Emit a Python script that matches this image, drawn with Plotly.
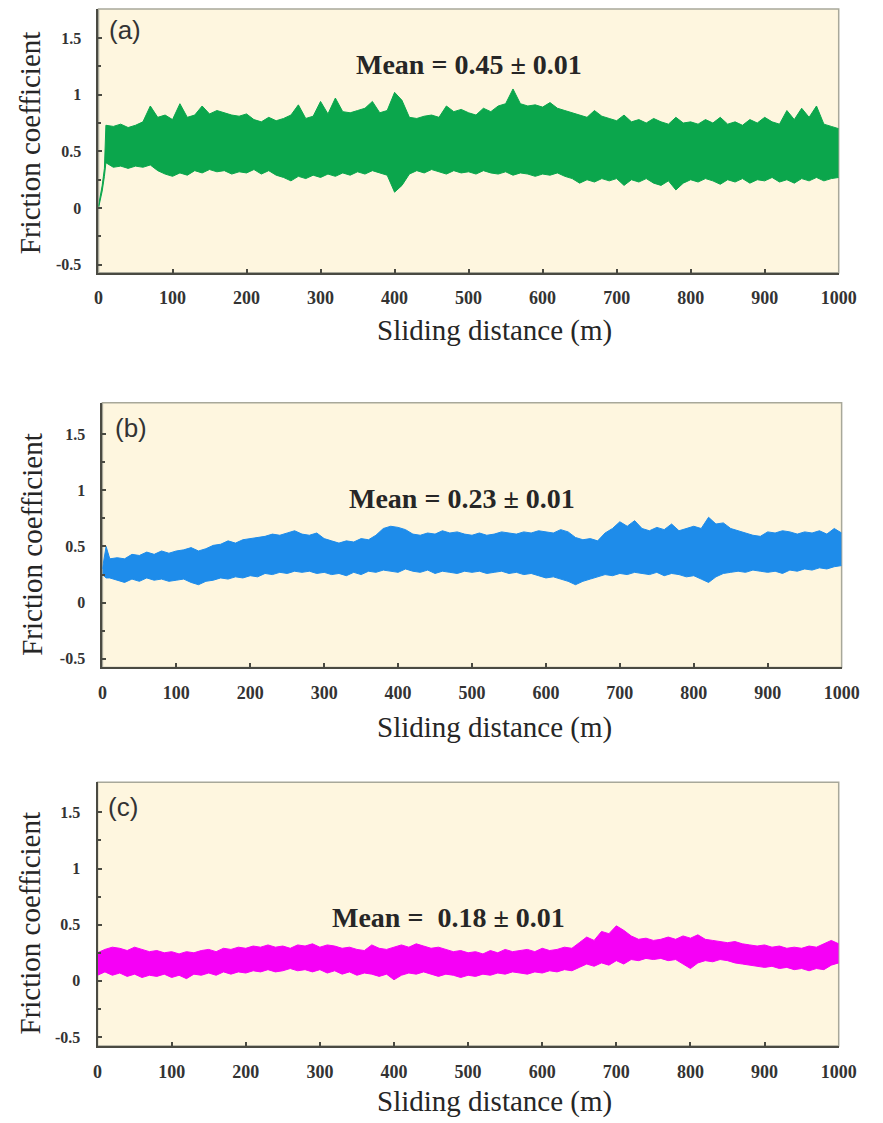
import plotly.graph_objects as go

# ---------------------------------------------------------------
# Friction coefficient vs sliding distance, three test conditions.
# Each trace is drawn as the envelope (upper / lower extent) of the
# recorded friction signal, sampled every 10 m.
# ---------------------------------------------------------------

grid = list(range(10, 1010, 10))

# (a) run-in start, then the steady band
dist_a = [0, 5, 8] + grid
upper_a = [0.02, 0.20, 0.35,
           0.73, 0.72, 0.74, 0.71, 0.73, 0.76, 0.90, 0.80, 0.82, 0.78,
           0.92, 0.80, 0.82, 0.90, 0.83, 0.86, 0.84, 0.82, 0.81, 0.83,
           0.78, 0.76, 0.80, 0.77, 0.79, 0.82, 0.91, 0.79, 0.81, 0.94,
           0.83, 0.97, 0.85, 0.84, 0.86, 0.88, 0.94, 0.84, 0.86, 1.02,
           0.95, 0.80, 0.79, 0.81, 0.82, 0.80, 0.90, 0.85, 0.87, 0.84,
           0.82, 0.88, 0.85, 0.90, 0.92, 1.05, 0.92, 0.90, 0.91, 0.89,
           0.93, 0.88, 0.86, 0.84, 0.82, 0.80, 0.86, 0.81, 0.79, 0.77,
           0.82, 0.76, 0.78, 0.75, 0.79, 0.76, 0.74, 0.80, 0.75, 0.76,
           0.74, 0.78, 0.75, 0.80, 0.74, 0.76, 0.73, 0.78, 0.75, 0.80,
           0.76, 0.74, 0.86, 0.78, 0.88, 0.80, 0.90, 0.74, 0.72, 0.70]
lower_a = [0.00, 0.15, 0.28,
           0.40, 0.36, 0.37, 0.35, 0.37, 0.36, 0.38, 0.33, 0.30, 0.28,
           0.31, 0.29, 0.33, 0.31, 0.34, 0.32, 0.33, 0.30, 0.32, 0.31,
           0.34, 0.30, 0.33, 0.29, 0.27, 0.24, 0.28, 0.26, 0.29, 0.27,
           0.30, 0.28, 0.31, 0.29, 0.32, 0.30, 0.33, 0.31, 0.29, 0.14,
           0.20, 0.30, 0.33, 0.31, 0.34, 0.32, 0.30, 0.33, 0.31, 0.32,
           0.30, 0.33, 0.31, 0.30, 0.32, 0.29, 0.31, 0.30, 0.28, 0.30,
           0.29, 0.31, 0.28, 0.26, 0.22, 0.25, 0.23, 0.26, 0.24, 0.26,
           0.20, 0.25, 0.23, 0.26, 0.22, 0.20, 0.24, 0.16, 0.22, 0.25,
           0.23, 0.26, 0.24, 0.21, 0.25, 0.23, 0.26, 0.22, 0.25, 0.24,
           0.27, 0.23, 0.25, 0.22, 0.26, 0.24, 0.27, 0.24, 0.26, 0.27]

# (b)
dist_b = [0, 5] + grid
upper_b = [0.30, 0.50,
           0.39, 0.40, 0.39, 0.43, 0.42, 0.45, 0.43, 0.46, 0.44, 0.46,
           0.47, 0.49, 0.46, 0.48, 0.51, 0.52, 0.55, 0.53, 0.56, 0.57,
           0.58, 0.59, 0.61, 0.60, 0.62, 0.64, 0.61, 0.60, 0.62, 0.57,
           0.55, 0.53, 0.55, 0.54, 0.57, 0.56, 0.60, 0.66, 0.68, 0.67,
           0.65, 0.61, 0.60, 0.62, 0.61, 0.64, 0.62, 0.63, 0.61, 0.60,
           0.62, 0.60, 0.61, 0.63, 0.62, 0.61, 0.63, 0.62, 0.64, 0.63,
           0.62, 0.65, 0.63, 0.58, 0.56, 0.57, 0.55, 0.62, 0.66, 0.72,
           0.68, 0.73, 0.66, 0.64, 0.67, 0.65, 0.70, 0.64, 0.66, 0.68,
           0.66, 0.76, 0.70, 0.71, 0.66, 0.64, 0.62, 0.60, 0.59, 0.63,
           0.62, 0.64, 0.63, 0.61, 0.63, 0.62, 0.64, 0.61, 0.66, 0.62]
lower_b = [0.25, 0.22,
           0.22, 0.20, 0.18, 0.21, 0.19, 0.22, 0.20, 0.21, 0.19, 0.20,
           0.21, 0.18, 0.16, 0.19, 0.20, 0.22, 0.21, 0.23, 0.22, 0.24,
           0.23, 0.26, 0.25, 0.27, 0.26, 0.28, 0.27, 0.28, 0.26, 0.27,
           0.25, 0.26, 0.24, 0.27, 0.25, 0.28, 0.27, 0.29, 0.28, 0.27,
           0.30, 0.28, 0.27, 0.29, 0.26, 0.28, 0.27, 0.26, 0.28, 0.27,
           0.28, 0.26, 0.27, 0.28, 0.26, 0.27, 0.25, 0.26, 0.24, 0.22,
           0.23, 0.21, 0.19, 0.16, 0.19, 0.21, 0.23, 0.25, 0.24, 0.26,
           0.25, 0.27, 0.26, 0.25, 0.27, 0.24, 0.26, 0.25, 0.23, 0.24,
           0.21, 0.18, 0.23, 0.26, 0.27, 0.28, 0.27, 0.29, 0.28, 0.27,
           0.28, 0.26, 0.29, 0.28, 0.30, 0.29, 0.31, 0.30, 0.32, 0.33]

# (c)
dist_c = [0] + grid
upper_c = [0.25,
           0.28, 0.30, 0.29, 0.27, 0.30, 0.28, 0.26, 0.27, 0.25, 0.26,
           0.24, 0.26, 0.25, 0.27, 0.28, 0.26, 0.29, 0.28, 0.30, 0.29,
           0.31, 0.30, 0.32, 0.30, 0.31, 0.29, 0.32, 0.31, 0.33, 0.30,
           0.32, 0.31, 0.29, 0.30, 0.28, 0.27, 0.32, 0.29, 0.28, 0.30,
           0.32, 0.30, 0.33, 0.31, 0.29, 0.30, 0.28, 0.26, 0.27, 0.25,
           0.26, 0.24, 0.27, 0.25, 0.28, 0.26, 0.27, 0.28, 0.26, 0.29,
           0.27, 0.28, 0.30, 0.29, 0.34, 0.39, 0.36, 0.44, 0.42, 0.49,
           0.45, 0.40, 0.37, 0.38, 0.36, 0.37, 0.39, 0.37, 0.40, 0.38,
           0.41, 0.37, 0.36, 0.35, 0.34, 0.35, 0.33, 0.32, 0.31, 0.32,
           0.30, 0.31, 0.29, 0.30, 0.29, 0.31, 0.30, 0.33, 0.36, 0.33]
lower_c = [0.05,
           0.08, 0.05, 0.07, 0.04, 0.06, 0.03, 0.05, 0.04, 0.06, 0.03,
           0.05, 0.02, 0.06, 0.05, 0.07, 0.05, 0.08, 0.06, 0.08, 0.07,
           0.09, 0.08, 0.10, 0.08, 0.09, 0.11, 0.09, 0.10, 0.08, 0.10,
           0.07, 0.09, 0.06, 0.08, 0.05, 0.07, 0.06, 0.04, 0.06, 0.01,
           0.05, 0.07, 0.06, 0.08, 0.06, 0.04, 0.06, 0.05, 0.03, 0.05,
           0.04, 0.06, 0.05, 0.07, 0.06, 0.08, 0.07, 0.06, 0.08, 0.07,
           0.09, 0.08, 0.10, 0.09, 0.12, 0.15, 0.13, 0.16, 0.14, 0.18,
           0.15, 0.19, 0.18, 0.20, 0.19, 0.20, 0.18, 0.19, 0.15, 0.11,
           0.16, 0.18, 0.17, 0.19, 0.18, 0.16, 0.15, 0.14, 0.13, 0.12,
           0.13, 0.11, 0.12, 0.10, 0.11, 0.09, 0.11, 0.10, 0.14, 0.16]

panel_labels = ["(a)", "(b)", "(c)"]
mean_values = [0.45, 0.23, 0.18]
mean_errors = [0.01, 0.01, 0.01]

x_tick_values = list(range(0, 1001, 100))
y_tick_values = [-0.5, 0, 0.5, 1, 1.5]
y_tick_text = ["-0.5", "0", "0.5", "1", "1.5"]
y_minor_values = [-0.25, 0.25, 0.75, 1.25]

# ---------------------------------------------------------------
W, H = 883, 1123
BG = "#FEF6DF"
AXIS_DARK = "#4a4a42"
FRAME_GREY = "#a8a89a"
TEXT = "#262626"
SERIF = "Liberation Serif, Times New Roman, serif"
SANS = "Liberation Sans, Arial, sans-serif"

panels = [
    dict(x=dist_a, up=upper_a, lo=lower_a, color="#0BA64C",
         box=(96, 856, 9, 273), yr=(-0.57, 1.755),
         lab=(12, 1.57), mean=(500, 1.27), mean_fmt="Mean = {m:.2f} ± {e:.2f}",
         ytitle=(26, 143), xtitle=(503, 331)),
    dict(x=dist_b, up=upper_b, lo=lower_b, color="#1E8CEA",
         box=(100, 859, 403, 668), yr=(-0.576, 1.78),
         lab=(15, 1.55), mean=(487, 0.93), mean_fmt="Mean = {m:.2f} ± {e:.2f}",
         ytitle=(27, 545), xtitle=(503, 728)),
    dict(x=dist_c, up=upper_c, lo=lower_c, color="#F600F6",
         box=(95, 856, 783, 1047), yr=(-0.58, 1.767),
         lab=(12, 1.55), mean=(474, 0.56), mean_fmt="Mean =&nbsp; {m:.2f} ± {e:.2f}",
         ytitle=(26, 924), xtitle=(503, 1102)),
]

fig = go.Figure()
layout = dict(
    width=W, height=H,
    margin=dict(l=0, r=0, t=0, b=0),
    paper_bgcolor="white", plot_bgcolor=BG,
    showlegend=False,
    shapes=[], annotations=[],
)

for i, p in enumerate(panels):
    n = "" if i == 0 else str(i + 1)
    xa, ya = "x" + n, "y" + n
    x0, x1, y0, y1 = p["box"]
    xdom = [x0 / W, x1 / W]
    ydom = [1 - y1 / H, 1 - y0 / H]

    fig.add_trace(go.Scatter(
        x=p["x"], y=p["lo"], mode="lines", xaxis=xa, yaxis=ya,
        line=dict(color=p["color"], width=1), hoverinfo="skip"))
    fig.add_trace(go.Scatter(
        x=p["x"], y=p["up"], mode="lines", xaxis=xa, yaxis=ya,
        fill="tonexty", fillcolor=p["color"],
        line=dict(color=p["color"], width=1), hoverinfo="skip"))

    layout["xaxis" + n] = dict(
        domain=xdom, anchor=ya, range=[0, 1000],
        tickvals=x_tick_values, ticks="inside", ticklen=4, tickwidth=2,
        tickcolor=AXIS_DARK, showline=True, linecolor=AXIS_DARK, linewidth=2,
        showgrid=False, zeroline=False, ticklabelstandoff=8,
        tickfont=dict(family=SERIF, size=18, color="#333333", weight="bold"),
    )
    layout["yaxis" + n] = dict(
        domain=ydom, anchor=xa, range=list(p["yr"]),
        tickvals=y_tick_values, ticktext=y_tick_text,
        ticks="inside", ticklen=4, tickwidth=2, tickcolor=AXIS_DARK,
        minor=dict(tickvals=y_minor_values, ticks="inside", ticklen=3,
                   tickwidth=1.5, tickcolor=AXIS_DARK),
        showline=True, linecolor=AXIS_DARK, linewidth=2,
        showgrid=False, zeroline=False, ticklabelstandoff=12,
        tickfont=dict(family=SERIF, size=16, color="#333333", weight="bold"),
    )

    # light frame along the top and right edges
    layout["shapes"].append(dict(
        type="rect", xref=xa + " domain", yref=ya + " domain",
        x0=0, x1=1, y0=0, y1=1, layer="below",
        line=dict(color=FRAME_GREY, width=1.5)))

    layout["annotations"] += [
        dict(text=panel_labels[i], x=p["lab"][0], y=p["lab"][1], xref=xa, yref=ya,
             xanchor="left", yanchor="middle", showarrow=False,
             font=dict(family=SANS, size=26, color="#333333")),
        dict(text=p["mean_fmt"].format(m=mean_values[i], e=mean_errors[i]),
             x=p["mean"][0], y=p["mean"][1], xref=xa, yref=ya,
             xanchor="center", yanchor="middle", showarrow=False,
             font=dict(family=SERIF, size=28, color=TEXT, weight="bold")),
        dict(text="Friction coefficient", textangle=-90,
             x=p["ytitle"][0] / W, y=1 - p["ytitle"][1] / H,
             xref="paper", yref="paper", xanchor="center", yanchor="middle",
             showarrow=False, font=dict(family=SERIF, size=29, color=TEXT)),
        dict(text="Sliding distance (m)",
             x=p["xtitle"][0] / W, y=1 - p["xtitle"][1] / H,
             xref="paper", yref="paper", xanchor="center", yanchor="middle",
             showarrow=False, font=dict(family=SERIF, size=29, color=TEXT)),
    ]

fig.update_layout(**layout)
fig.write_html("out.html")
